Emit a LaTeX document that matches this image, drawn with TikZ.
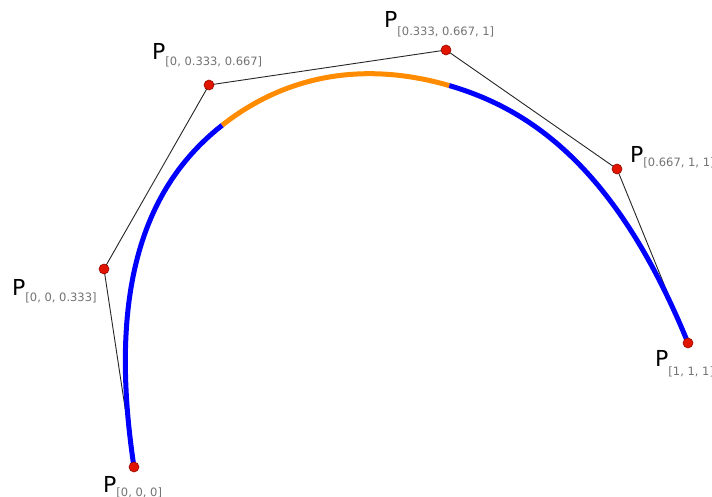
\documentclass[tikz,border=0pt]{standalone}
\usepackage{fontspec}
\setmainfont{DejaVu Sans}
\usetikzlibrary{calc}
\definecolor{curveblue}{RGB}{0,0,255}
\definecolor{curveorange}{RGB}{255,140,0}
\definecolor{ptred}{RGB}{225,20,0}
\definecolor{ptedge}{RGB}{150,10,0}
\tikzset{
  polyline/.style={draw=black!85, line width=0.9pt},
  bluecurve/.style={draw=curveblue, line width=5pt},
  orangecurve/.style={draw=curveorange, line width=5pt},
  ctrlpt/.style={fill=ptred, draw=ptedge, line width=0.6pt},
  ptlabel/.style={anchor=base west, inner sep=0pt, font=\fontsize{22}{22}\selectfont}
}
\newcommand{\plab}[2][-6pt]{P\raisebox{#1}{\fontsize{11.5}{12}\selectfont\color{black!55}#2}}
\begin{document}
\begin{tikzpicture}[x=1pt,y=-1pt]
\clip (0,0) rectangle (712,497);
\fill[white] (0,0) rectangle (712,497);
% control points
\coordinate (p0) at (134,467);
\coordinate (p1) at (104,269);
\coordinate (p2) at (209,85);
\coordinate (p3) at (446,50);
\coordinate (p4) at (617,169);
\coordinate (p5) at (688,343);
% Bezier points from blossoming
\coordinate (q1) at ($(p1)!0.5!(p2)$);
\coordinate (r1) at ($(p2)!1/3!(p3)$);
\coordinate (r2) at ($(p2)!2/3!(p3)$);
\coordinate (s1) at ($(p3)!0.5!(p4)$);
\coordinate (ka) at ($(q1)!0.5!(r1)$);
\coordinate (kb) at ($(r2)!0.5!(s1)$);
% control polygon
\draw[polyline] (p0) -- (p1) -- (p2) -- (p3) -- (p4) -- (p5);
% curve
\draw[bluecurve] (p0) .. controls (p1) and (q1) .. (ka);
\draw[orangecurve] (ka) .. controls (r1) and (r2) .. (kb);
\draw[bluecurve] (kb) .. controls (s1) and (p4) .. (p5);
% points
\foreach \p in {p0,p1,p2,p3,p4,p5} \draw[ctrlpt] (\p) circle (5);
% labels
\node[ptlabel] (l0) at (103,492) {\plab[-4pt]{[0, 0, 0]}};
\node[ptlabel] (l1) at (12,295) {\plab{[0, 0, 0.333]}};
\node[ptlabel] (l2) at (152,60) {\plab{[0, 0.333, 0.667]}};
\node[ptlabel] (l3) at (384,28) {\plab[-8pt]{[0.333, 0.667, 1]}};
\node[ptlabel] (l4) at (630,163) {\plab[-4pt]{[0.667, 1, 1]}};
\node[ptlabel] (l5) at (655,366) {\plab[-9pt]{[1, 1, 1]}};
\end{tikzpicture}
\end{document}
